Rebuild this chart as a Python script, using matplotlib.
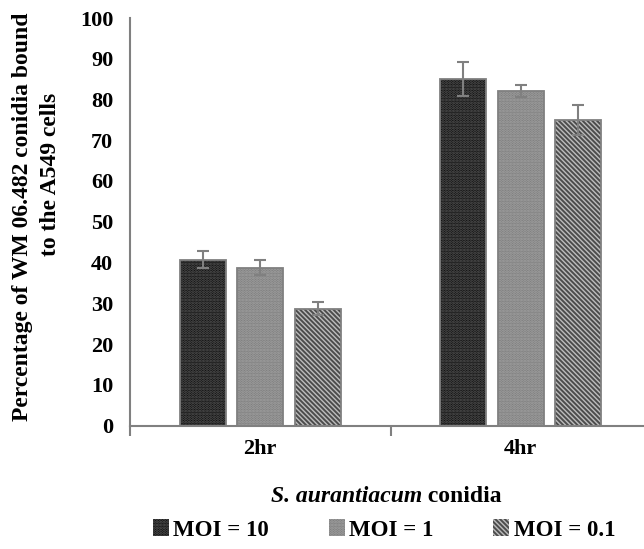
import matplotlib
matplotlib.use("Agg")
import matplotlib.pyplot as plt
import numpy as np
from matplotlib.patches import Patch
from matplotlib.offsetbox import TextArea, HPacker, AnchoredOffsetbox

plt.rcParams['font.family'] = ['Liberation Serif', 'DejaVu Serif']
plt.rcParams['font.weight'] = 'bold'
plt.rcParams['hatch.linewidth'] = 1.4

categories = ['2hr', '4hr']
series = ['MOI = 10', 'MOI = 1', 'MOI = 0.1']
values = {
    'MOI = 10': [40.7, 85.0],
    'MOI = 1': [38.7, 82.0],
    'MOI = 0.1': [28.7, 75.0],
}
errors = {
    'MOI = 10': [2.0, 4.2],
    'MOI = 1': [1.8, 1.5],
    'MOI = 0.1': [1.5, 3.7],
}
yticks = [0, 10, 20, 30, 40, 50, 60, 70, 80, 90, 100]

styles = {
    'MOI = 10': dict(fc='#0c0c0c', hc='#5a5a5a', hatch='......'),
    'MOI = 1': dict(fc='#7c7c7c', hc='#a4a4a4', hatch='......'),
    'MOI = 0.1': dict(fc='#bcbcbc', hc='#4c4c4c', hatch='\\' * 7),
}

W, H = 644, 549
fig = plt.figure(figsize=(W / 100, H / 100), dpi=100)
ax = fig.add_axes([130 / W, 123.5 / H, 521 / W, 407.5 / H])

x = np.arange(len(categories))
bw = 0.177
step = 0.221
edge = '#808080'
handles = []
for i, s in enumerate(series):
    pos = x + (i - 1) * step
    st = styles[s]
    ax.bar(pos, values[s], bw, color=st['fc'], edgecolor=st['hc'], hatch=st['hatch'],
           linewidth=0, zorder=2)
    ax.bar(pos, values[s], bw, facecolor='none', edgecolor=edge, linewidth=1.3, zorder=3)
    ax.errorbar(pos, values[s], yerr=errors[s], fmt='none', ecolor='#808080',
                elinewidth=1.5, capsize=4, capthick=1.5, zorder=4)
    handles.append(Patch(facecolor=st['fc'], edgecolor=st['hc'], hatch=st['hatch'],
                         linewidth=0, label=s))

ax.set_xlim(-0.5, 1.5)
ax.set_ylim(0, 100)
ax.set_yticks(yticks)
ax.set_yticklabels([str(t) for t in yticks], fontsize=16, fontweight='bold')
ax.tick_params(axis='y', length=0, pad=12)
ax.set_xticks([-0.5, 0.5, 1.5])
ax.set_xticklabels([])
ax.tick_params(axis='x', which='major', length=7, width=1.5, color='#808080', direction='out')
ax.set_xticks(x, minor=True)
ax.set_xticklabels(categories, minor=True, fontsize=16, fontweight='bold')
ax.tick_params(axis='x', which='minor', length=0, pad=10)

for sp in ['top', 'right']:
    ax.spines[sp].set_visible(False)
for sp in ['left', 'bottom']:
    ax.spines[sp].set_color('#808080')
    ax.spines[sp].set_linewidth(1.5)

fig.text(23 / W, 1 - 217 / H, 'Percentage of WM 06.482 conidia bound',
         rotation=90, ha='center', va='center', fontsize=17, fontweight='bold')
fig.text(51 / W, 1 - 174 / H, 'to the A549 cells',
         rotation=90, ha='center', va='center', fontsize=17, fontweight='bold')

t1 = TextArea('S. aurantiacum', textprops=dict(fontsize=17, fontweight='bold', fontstyle='italic'))
t2 = TextArea(' conidia', textprops=dict(fontsize=17, fontweight='bold'))
box = HPacker(children=[t1, t2], align='baseline', pad=0, sep=0)
anch = AnchoredOffsetbox(loc='center', child=box, frameon=False, pad=0, borderpad=0,
                         bbox_to_anchor=(386 / W, 1 - 497 / H),
                         bbox_transform=fig.transFigure)
fig.add_artist(anch)

leg = fig.legend(handles=handles, loc='center', bbox_to_anchor=(384 / W, 1 - 530 / H),
                 ncol=3, frameon=False, handlelength=0.7, handleheight=0.7,
                 handletextpad=0.2, columnspacing=2.6, prop={'weight': 'bold', 'size': 16.5})

fig.savefig('out.png', dpi=100)
